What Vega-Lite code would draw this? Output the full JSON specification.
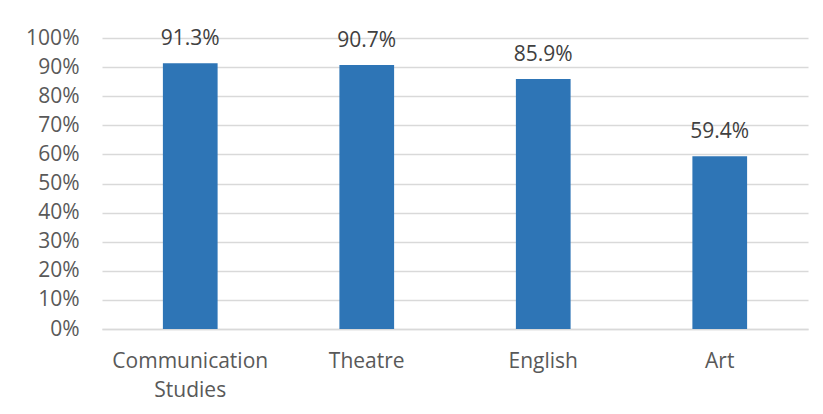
{
  "$schema": "https://vega.github.io/schema/vega-lite/v6.json",
  "width": 706,
  "height": 291,
  "autosize": {"type": "none"},
  "padding": {"left": 102, "top": 38, "right": 15, "bottom": 85},
  "background": "white",
  "data": {
    "values": [
      {"major": "Communication Studies", "rate": 0.913},
      {"major": "Theatre", "rate": 0.907},
      {"major": "English", "rate": 0.859},
      {"major": "Art", "rate": 0.594}
    ]
  },
  "encoding": {
    "x": {
      "field": "major",
      "type": "nominal",
      "sort": null,
      "title": null,
      "scale": {"paddingInner": 0.69, "paddingOuter": 0.345},
      "axis": {
        "labelAngle": 0,
        "labelExpr": "split(datum.label, ' ')",
        "labelLineHeight": 29,
        "labelPadding": 21,
        "ticks": false,
        "domainColor": "#D9D9D9",
        "domainWidth": 1.5
      }
    },
    "y": {
      "field": "rate",
      "type": "quantitative",
      "title": null,
      "scale": {"domain": [0, 1]},
      "axis": {
        "format": ".0%",
        "values": [0, 0.1, 0.2, 0.3, 0.4, 0.5, 0.6, 0.7, 0.8, 0.9, 1],
        "ticks": false,
        "domain": false,
        "labelPadding": 23,
        "gridColor": "#D9D9D9",
        "gridWidth": 1.5
      }
    }
  },
  "layer": [
    {"mark": {"type": "bar", "color": "#2E75B6"}},
    {
      "mark": {"type": "text", "dy": -24, "baseline": "middle", "fontSize": 21, "color": "#404040", "font": "Open Sans"},
      "encoding": {"text": {"field": "rate", "format": ".1%"}}
    }
  ],
  "config": {
    "view": {"stroke": null},
    "axis": {"labelFont": "Open Sans", "labelFontSize": 21, "labelColor": "#595959"}
  }
}
